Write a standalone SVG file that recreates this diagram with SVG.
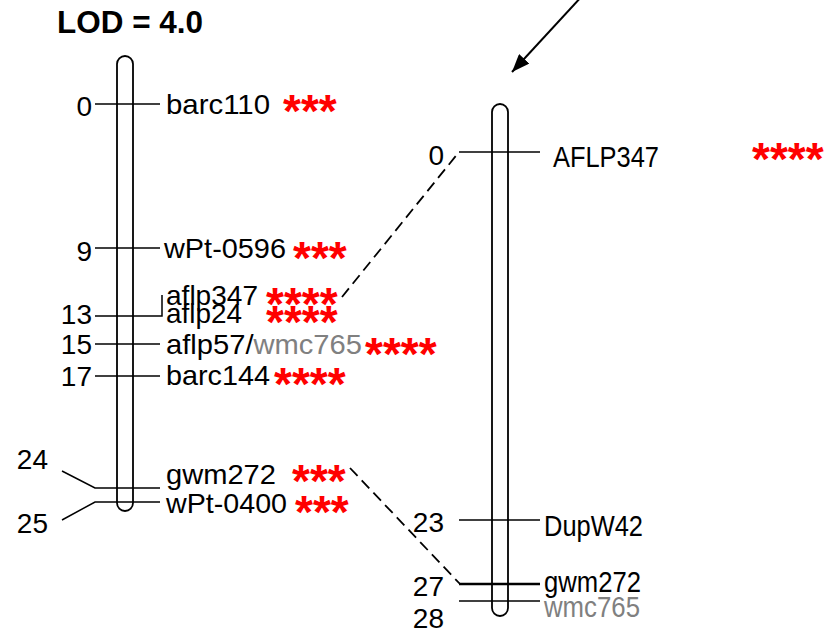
<svg xmlns="http://www.w3.org/2000/svg" width="826" height="629" viewBox="0 0 826 629">
<defs>
<style>
.t{font-family:"Liberation Sans",Arial,sans-serif;font-size:28px;fill:#000}
.n{font-family:"Liberation Sans",Arial,sans-serif;font-size:28px;fill:#000;text-anchor:end}
.r{font-family:"Liberation Sans Narrow","Arial Narrow","Liberation Sans",sans-serif;font-size:29px;fill:#000}
.g{fill:#808080}
.s{font-family:"Liberation Sans",Arial,sans-serif;font-size:46px;font-weight:bold;fill:#ff0000}
.chr{fill:none;stroke:#000;stroke-width:1.8}
.m{stroke:#000;stroke-width:1.5;fill:none}
.d{stroke:#000;stroke-width:1.8;fill:none;stroke-dasharray:11,6}
</style>
<marker id="ah" markerWidth="18" markerHeight="14" refX="18" refY="7" orient="auto" markerUnits="userSpaceOnUse">
<path d="M0,0 L18,7 L0,14 Z" fill="#000"/>
</marker>
</defs>
<rect width="826" height="629" fill="#fff"/>

<text x="57" y="33" font-family="Liberation Sans,Arial,sans-serif" font-size="31" font-weight="bold" textLength="146" lengthAdjust="spacingAndGlyphs">LOD = 4.0</text>

<g id="chrom-left">
<rect class="chr" x="117" y="56" width="16" height="455" rx="8"/>
</g>
<g id="chrom-right">
<rect class="chr" x="492" y="104" width="16" height="512" rx="8"/>
</g>

<g id="m-barc110">
<line class="m" x1="95" y1="104" x2="160" y2="104"/>
<text class="n" x="92" y="116">0</text>
<text class="t" x="166" y="114" textLength="104" lengthAdjust="spacingAndGlyphs">barc110</text>
<text class="s" x="283" y="127">***</text>
</g>
<g id="m-wPt-0596">
<line class="m" x1="95" y1="248" x2="160" y2="248"/>
<text class="n" x="92" y="261">9</text>
<text class="t" x="164" y="258" textLength="122" lengthAdjust="spacingAndGlyphs">wPt-0596</text>
<text class="s" x="293" y="274">***</text>
</g>
<g id="m-aflp347-24">
<polyline class="m" points="95,316 162,316 162,295"/>
<text class="n" x="92" y="324">13</text>
<text class="t" x="166" y="305" textLength="92" lengthAdjust="spacingAndGlyphs">aflp347</text>
<text class="t" x="166" y="323" textLength="76" lengthAdjust="spacingAndGlyphs">aflp24</text>
<text class="s" x="266" y="320">****</text>
<text class="s" x="266" y="338">****</text>
</g>
<g id="m-aflp57">
<line class="m" x1="95" y1="344" x2="160" y2="344"/>
<text class="n" x="92" y="354">15</text>
<text class="t" x="166" y="354" textLength="196" lengthAdjust="spacingAndGlyphs">aflp57/<tspan class="g">wmc765</tspan></text>
<text class="s" x="365" y="370">****</text>
</g>
<g id="m-barc144">
<line class="m" x1="95" y1="376" x2="160" y2="376"/>
<text class="n" x="92" y="386">17</text>
<text class="t" x="166" y="385" textLength="104" lengthAdjust="spacingAndGlyphs">barc144</text>
<text class="s" x="274" y="400">****</text>
</g>
<g id="m-gwm272-left">
<polyline class="m" points="62,471 95,488 160,488"/>
<text class="n" x="48" y="469">24</text>
<text class="t" x="166" y="484" textLength="110" lengthAdjust="spacingAndGlyphs">gwm272</text>
<text class="s" x="292" y="497">***</text>
</g>
<g id="m-wPt-0400">
<polyline class="m" points="62,520 95,502 160,502"/>
<text class="n" x="48" y="533">25</text>
<text class="t" x="166" y="513" textLength="121" lengthAdjust="spacingAndGlyphs">wPt-0400</text>
<text class="s" x="295" y="528">***</text>
</g>

<g id="m-AFLP347">
<line class="m" x1="459" y1="152" x2="540" y2="152"/>
<text class="n" x="444" y="165">0</text>
<text class="r" x="553" y="167" textLength="106" lengthAdjust="spacingAndGlyphs">AFLP347</text>
<text class="s" x="752" y="175">****</text>
</g>
<g id="m-DupW42">
<line class="m" x1="459" y1="520" x2="540" y2="520"/>
<text class="n" x="444" y="532">23</text>
<text class="r" x="544" y="536" textLength="99" lengthAdjust="spacingAndGlyphs">DupW42</text>
</g>
<g id="m-gwm272-right">
<line x1="459" y1="584" x2="540" y2="584" stroke="#000" stroke-width="2.5"/>
<text class="n" x="444" y="596">27</text>
<text class="r" x="544" y="592" textLength="97" lengthAdjust="spacingAndGlyphs">gwm272</text>
</g>
<g id="m-wmc765-right">
<line class="m" x1="459" y1="601" x2="540" y2="601"/>
<text class="n" x="444" y="628">28</text>
<text class="r g" x="544" y="617" textLength="96" lengthAdjust="spacingAndGlyphs">wmc765</text>
</g>

<g id="connectors">
<line class="d" x1="342" y1="297" x2="459" y2="152"/>
<line class="d" x1="350" y1="468" x2="460" y2="584"/>
<line x1="583" y1="-5" x2="512" y2="72" stroke="#000" stroke-width="2" marker-end="url(#ah)"/>
</g>
</svg>
